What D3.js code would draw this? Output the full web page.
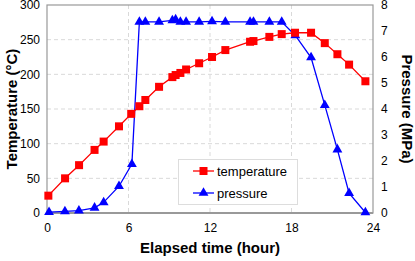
<!DOCTYPE html>
<meta charset="utf-8">
<style>
body { margin: 0; background: #fff; }
text { font-family: "Liberation Sans", Arial, sans-serif; }
.grid line { stroke: #d9d9d9; stroke-dasharray: 4,3; }
</style>
<body>
<script src="https://d3js.org/d3.v7.min.js"></script>
<script>

var tempTime = [0.1, 1.33, 2.36, 3.5, 4.17, 5.3, 6.2, 6.8, 7.24, 8.25, 9.23, 9.47, 9.82, 10.24, 11.2, 12.15, 13.13, 14.95, 15.2, 16.37, 17.28, 18.26, 19.44, 20.45, 21.38, 22.24, 23.44];
var tempValues = [25, 50, 69, 91, 103, 125, 143, 154, 163, 182, 196, 199, 202, 207, 216, 225, 235, 247, 248, 254, 258, 260, 260, 245, 229, 214, 190];

var presTime = [0.15, 1.32, 2.35, 3.5, 4.17, 5.3, 6.25, 6.8, 7.24, 8.25, 9.23, 9.47, 9.82, 10.24, 11.2, 12.15, 13.13, 14.95, 15.2, 16.37, 17.28, 18.28, 19.44, 20.45, 21.38, 22.24, 23.44];
var presValues = [0.03, 0.06, 0.09, 0.2, 0.41, 1.03, 1.88, 7.35, 7.35, 7.35, 7.41, 7.44, 7.35, 7.35, 7.35, 7.37, 7.35, 7.35, 7.35, 7.35, 7.35, 6.83, 5.98, 4.15, 2.44, 0.76, 0.02];

var xTicks = [0, 6, 12, 18, 24];
var tempTicks = [0, 50, 100, 150, 200, 250, 300];
var presTicks = [0, 1, 2, 3, 4, 5, 6, 7, 8];

var W = 415, H = 261,
    pLeft = 47, pRight = 373, pTop = 5, pBottom = 213;

var svg = d3.select("body").append("svg")
    .attr("width", W)
    .attr("height", H);

var x = d3.scaleLinear().domain([0, 24]).range([pLeft, pRight]);
var yT = d3.scaleLinear().domain([0, 300]).range([pBottom, pTop]);
var yP = d3.scaleLinear().domain([0, 8]).range([pBottom, pTop]);

// grid
var grid = svg.append("g").attr("class", "grid");
grid.selectAll(".h")
    .data(tempTicks.slice(1, -1))
  .enter().append("line")
    .attr("x1", pLeft).attr("x2", pRight)
    .attr("y1", yT).attr("y2", yT);
grid.selectAll(".v")
    .data(xTicks.slice(1, -1))
  .enter().append("line")
    .attr("x1", x).attr("x2", x)
    .attr("y1", pTop).attr("y2", pBottom);

// frame
svg.append("rect")
    .attr("x", pLeft).attr("y", pTop)
    .attr("width", pRight - pLeft).attr("height", pBottom - pTop)
    .attr("fill", "none")
    .attr("stroke", "#999")
    .attr("stroke-width", 1.2);
svg.append("line")
    .attr("x1", pLeft).attr("x2", pRight)
    .attr("y1", pBottom).attr("y2", pBottom)
    .attr("stroke", "#999").attr("stroke-width", 2);

// axes
var xAxis = svg.append("g")
    .attr("transform", "translate(0," + pBottom + ")")
    .call(d3.axisBottom(x).tickValues(xTicks).tickSize(0).tickPadding(10));
var lAxis = svg.append("g")
    .attr("transform", "translate(" + pLeft + ",0)")
    .call(d3.axisLeft(yT).tickValues(tempTicks).tickSize(0).tickPadding(7));
var rAxis = svg.append("g")
    .attr("transform", "translate(" + pRight + ",0)")
    .call(d3.axisRight(yP).tickValues(presTicks).tickSize(0).tickPadding(8));
[xAxis, lAxis, rAxis].forEach(function(a) {
  a.select(".domain").remove();
  a.selectAll("text")
      .attr("fill", "#000")
      .style("font-size", "12px")
      .style("font-family", "'Liberation Sans', Arial, sans-serif");
});

// titles
svg.append("text")
    .attr("x", 210).attr("y", 253)
    .attr("text-anchor", "middle")
    .style("font-size", "15px").style("font-weight", "bold")
    .text("Elapsed time (hour)");
svg.append("text")
    .attr("transform", "translate(17," + (pTop + pBottom) / 2 + ") rotate(-90)")
    .attr("text-anchor", "middle")
    .style("font-size", "15px").style("font-weight", "bold")
    .text("Temperature (\u00b0C)");
svg.append("text")
    .attr("transform", "translate(402," + (pTop + pBottom) / 2 + ") rotate(90)")
    .attr("text-anchor", "middle")
    .style("font-size", "15px").style("font-weight", "bold")
    .text("Pressure (MPa)");

var temp = tempTime.map(function(t, i) { return [t, tempValues[i]]; });
var pres = presTime.map(function(t, i) { return [t, presValues[i]]; });

var tri = d3.symbol().type(d3.symbolTriangle).size(42);

// pressure
svg.append("path")
    .datum(pres)
    .attr("fill", "none")
    .attr("stroke", "#0000ff")
    .attr("stroke-width", 1.3)
    .attr("d", d3.line().x(function(d) { return x(d[0]); }).y(function(d) { return yP(d[1]); }));
svg.selectAll(".pt")
    .data(pres)
  .enter().append("path")
    .attr("transform", function(d) { return "translate(" + x(d[0]) + "," + yP(d[1]) + ")"; })
    .attr("d", tri)
    .attr("fill", "#0000ff");

// temperature
svg.append("path")
    .datum(temp)
    .attr("fill", "none")
    .attr("stroke", "#ff0000")
    .attr("stroke-width", 1.3)
    .attr("d", d3.line().x(function(d) { return x(d[0]); }).y(function(d) { return yT(d[1]); }));
svg.selectAll(".tt")
    .data(temp)
  .enter().append("rect")
    .attr("x", function(d) { return x(d[0]) - 4; })
    .attr("y", function(d) { return yT(d[1]) - 4; })
    .attr("width", 8).attr("height", 8)
    .attr("fill", "#ff0000");

// legend
var lg = svg.append("g");
lg.append("rect")
    .attr("x", 178.5).attr("y", 159.5)
    .attr("width", 119).attr("height", 45)
    .attr("fill", "#fff")
    .attr("stroke", "#ddd");
var items = [
  { name: "temperature", color: "#ff0000", y: 171 },
  { name: "pressure", color: "#0000ff", y: 193 }
];
items.forEach(function(it, i) {
  lg.append("line")
      .attr("x1", 193).attr("x2", 214)
      .attr("y1", it.y).attr("y2", it.y)
      .attr("stroke", it.color).attr("stroke-width", 1.3);
  if (i == 0) {
    lg.append("rect").attr("x", 199.5).attr("y", it.y - 4).attr("width", 8).attr("height", 8).attr("fill", it.color);
  } else {
    lg.append("path").attr("transform", "translate(203.5," + it.y + ")").attr("d", tri).attr("fill", it.color);
  }
  lg.append("text")
      .attr("x", 217).attr("y", it.y + 4.5)
      .style("font-size", "13px")
      .text(it.name);
});

</script>
